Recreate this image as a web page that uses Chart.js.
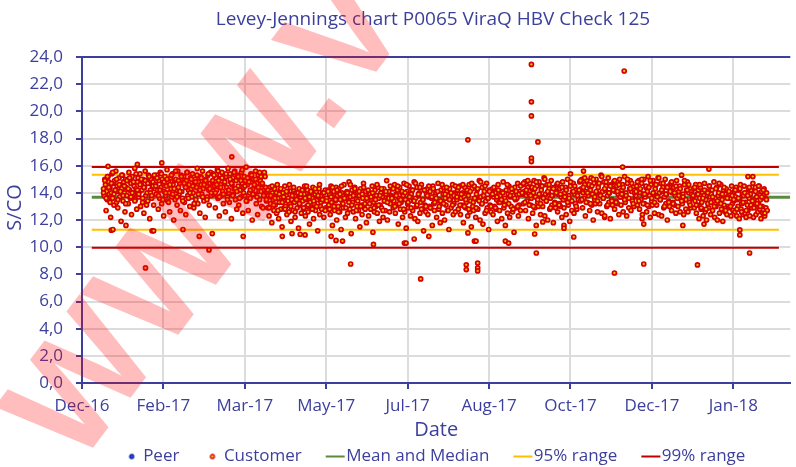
<!DOCTYPE html>
<html>
<head>
<meta charset="utf-8">
<script src="https://cdn.jsdelivr.net/npm/chart.js@4.4.1/dist/chart.umd.min.js"></script>
<style>
  html, body { margin: 0; padding: 0; background: #fff; }
  #wrap { width: 796px; height: 467px; }
</style>
</head>
<body>
<div id="wrap"><canvas id="lj" width="796" height="467"></canvas></div>
<script>
// x = days counted from the Dec-16 gridline, one tick every 50 days
const xTickLabels = ["Dec-16", "Feb-17", "Mar-17", "May-17", "Jul-17", "Aug-17", "Oct-17", "Dec-17", "Jan-18"]

// reference lines (S/CO)
const meanValue = 13.67
const range95 = [15.33, 11.29]
const range99 = [15.9, 9.96]
const meanDays = [6, 435]
const rangeDays = [6, 428]

// customer results, one array per period, in run order
const segmentDays = [[13, 45], [45, 80], [80, 113], [113, 150], [150, 190], [190, 230], [230, 270], [270, 305], [305, 340], [340, 375], [375, 400], [400, 421]]

const seg01 = [14.3,13.8,15.0,14.6,12.7,14.1,13.5,15.2,14.8,13.9,14.4,12.2,14.0,15.4,13.6,14.7,13.1,14.9,14.2,15.6,13.3,14.5,12.9,14.1,15.1,13.7,14.6,11.9,14.3,15.3,13.4,14.8,14.0,12.6,15.0,14.4,13.8,14.9,13.2,15.5,14.2,13.6,14.7,12.4,15.2,14.0,13.9,14.5,15.8,13.5,14.3,12.8,14.8,15.1,13.7,14.1,15.4,13.0,14.6,14.2,13.3,15.0,12.5,14.4,15.6,13.8,14.9,14.0,13.4,15.3,14.7,12.1,14.2,15.0,13.6,14.5,14.8,13.1,15.2,14.3]
const seg02 = [14.6,13.9,15.3,14.2,12.8,14.9,13.6,15.5,14.4,13.2,15.0,14.7,12.3,14.1,15.2,13.8,14.5,15.7,13.4,14.8,14.0,12.6,15.1,14.3,13.7,15.4,14.6,12.0,14.9,13.5,15.0,14.2,13.1,15.6,14.4,13.9,14.7,12.7,15.3,14.1,13.6,14.8,15.2,13.3,14.5,12.4,14.9,15.5,13.8,14.2,14.6,13.0,15.1,14.3,13.7,15.4,14.0,12.9,14.7,15.0,13.5,14.4,15.8,13.2,14.8,14.1,12.5,15.2,14.6,13.9,15.6,14.3,13.4,14.9,12.2,15.0,14.5,13.7,15.3,14.2,13.1,14.7,15.5,13.8,14.4]
const seg03 = [14.8,15.4,13.9,14.5,12.9,15.1,14.2,15.7,13.6,14.9,12.3,15.3,14.6,13.8,15.5,14.1,13.2,15.0,14.7,12.6,15.2,14.4,13.7,15.8,14.0,13.3,15.4,14.8,12.1,14.6,15.1,13.9,14.3,15.6,13.5,14.9,12.8,15.3,14.5,13.1,15.0,14.2,13.7,15.5,14.7,12.5,14.4,15.2,13.8,14.9,15.9,13.4,14.6,12.7,15.1,14.0,13.6,15.4,14.8,12.0,14.3,15.0,13.9,14.5,15.6,13.2,14.7,12.4,15.3,14.1,13.5,14.9,15.2,13.0,14.6,12.9,14.2,15.5,13.8,14.4]
const seg04 = [13.4,14.1,12.9,13.8,12.3,14.4,13.2,13.7,11.8,14.0,13.5,12.7,14.3,13.1,13.9,12.5,14.6,13.6,12.1,13.3,14.2,12.8,13.7,11.5,14.0,13.4,12.9,14.5,13.0,13.8,12.4,14.1,13.6,12.6,13.2,14.4,11.9,13.5,13.9,12.7,14.2,13.3,12.2,13.8,14.0,12.9,13.6,11.4,14.3,13.1,13.7,12.5,14.1,13.4,12.8,13.9,14.5,12.3,13.5,13.0,14.2,12.6,13.8,11.7,13.3,14.0,12.9,13.6,14.4,12.1,13.2,13.9,12.7,14.1,13.5,11.2,13.7,14.3,12.4,13.0,13.8,12.8,14.0,13.4,12.2,13.6,14.2,12.9]
const seg05 = [13.6,12.8,14.2,13.1,13.9,12.4,14.5,13.3,11.6,13.7,14.1,12.7,13.4,14.4,12.0,13.8,13.0,14.3,12.6,13.5,11.3,14.0,13.2,12.9,14.6,13.6,12.2,13.9,14.1,12.5,13.4,14.8,12.8,13.7,11.0,14.2,13.3,12.6,13.9,14.4,12.1,13.5,13.0,14.0,12.7,13.8,11.5,14.3,13.1,12.4,13.6,14.7,12.9,13.2,14.1,11.8,13.7,13.4,12.3,14.0,13.9,12.8,13.5,14.5,11.1,13.3,12.6,14.2,13.0,13.8,12.5,14.4,13.6,11.9,13.1,14.0,12.9,13.7,12.2,14.3,13.4,12.7,13.9,14.9,12.0,13.5,14.1,12.6,13.2,13.8]
const seg06 = [13.7,14.3,12.9,13.4,14.6,12.5,13.9,13.1,14.2,11.7,13.6,14.4,12.8,13.3,14.0,12.2,13.8,14.7,12.6,13.5,11.4,14.1,13.2,12.9,14.5,13.7,12.3,13.9,14.2,12.7,13.4,14.8,12.1,13.6,13.0,14.4,11.9,13.8,14.0,12.5,13.3,14.6,12.8,13.5,11.2,14.2,13.1,12.6,13.9,14.3,12.4,13.7,13.0,14.1,12.9,13.6,11.6,14.5,13.2,12.7,13.8,14.0,12.2,13.4,14.7,12.8,13.5,11.8,14.2,13.3,12.5,13.9,14.4,12.0,13.6,13.1,14.1,12.7,13.8,11.3,14.3,13.5,12.9,13.7,14.6,12.4,13.2,14.0,12.6,13.9]
const seg07 = [13.5,14.2,12.8,13.9,14.5,12.4,13.6,13.1,14.0,11.8,13.7,14.4,12.9,13.3,14.1,12.3,13.8,14.6,12.6,13.4,11.5,14.3,13.0,12.7,14.5,13.6,12.2,13.9,14.2,12.8,13.5,14.9,12.0,13.7,13.2,14.4,11.7,13.8,14.1,12.5,13.4,14.7,12.9,13.6,11.3,14.2,13.1,12.6,13.9,14.3,12.4,13.7,13.0,14.0,12.8,13.5,11.9,14.6,13.3,12.7,13.8,14.1,12.1,13.4,14.8,12.9,13.6,11.6,14.2,13.2,12.5,13.9,14.5,12.2,13.7,13.0,14.0,12.6,13.8,11.1,14.4,13.5,12.9,13.6,14.7,12.3,13.1,14.1,12.7,13.9]
const seg08 = [13.9,14.6,13.2,14.1,14.8,12.7,13.8,13.4,14.4,12.1,13.9,14.7,13.1,13.6,14.3,12.5,14.0,14.9,12.9,13.7,11.6,14.5,13.3,13.0,14.8,13.8,12.4,14.2,14.5,13.0,13.7,15.1,12.3,13.9,13.4,14.6,12.0,14.0,14.3,12.8,13.6,14.9,13.1,13.8,11.8,14.4,13.3,12.9,14.1,14.6,12.6,13.9,13.2,14.3,13.0,13.7,12.2,14.8,13.5,12.9,14.0,14.4,12.4,13.6,15.0,13.1,13.8,11.9,14.5,13.4,12.7,14.1,14.7,12.5,13.9,13.2,14.2,12.8,14.0,13.5]
const seg09 = [14.1,14.8,13.4,14.3,15.0,12.9,14.0,13.6,14.6,12.3,14.1,14.9,13.3,13.8,14.5,12.7,14.2,15.1,13.1,13.9,12.0,14.7,13.5,13.2,15.0,14.0,12.6,14.4,14.7,13.2,13.9,15.3,12.5,14.1,13.6,14.8,12.2,14.2,14.5,13.0,13.8,15.1,13.3,14.0,12.1,14.6,13.5,13.1,14.3,14.8,12.8,14.1,13.4,14.5,13.2,13.9,12.4,15.0,13.7,13.1,14.2,14.6,12.6,13.8,15.2,13.3,14.0,12.3,14.7,13.6,12.9,14.3,14.9,12.7,14.1,13.4,14.4,13.0,14.2,13.7]
const seg10 = [13.8,14.5,13.1,14.2,14.9,12.8,14.0,13.5,14.7,12.4,13.9,15.0,13.2,13.7,14.4,12.6,14.1,15.2,13.0,13.8,12.2,14.6,13.4,13.1,14.9,13.9,12.5,14.3,14.6,13.1,13.8,15.1,12.4,14.0,13.5,14.7,12.3,14.1,14.4,12.9,13.7,15.0,13.2,13.9,12.0,14.5,13.4,13.0,14.2,14.7,12.7,14.0,13.3,14.4,13.1,13.8,12.5,14.9,13.6,13.0,14.1,14.5,12.6,13.7,15.3,13.2,13.9,12.4,14.6,13.5,12.8,14.2,14.8,12.6,14.0,13.3,14.3,12.9,14.1,13.6]
const seg11 = [13.7,14.3,12.9,13.4,14.6,12.5,13.9,13.1,14.2,12.1,13.6,14.4,12.8,13.3,14.0,12.3,13.8,14.7,12.6,13.5,12.0,14.1,13.2,12.9,14.5,13.7,12.4,13.9,14.2,12.7,13.4,14.8,12.2,13.6,13.0,14.4,12.0,13.8,14.0,12.5,13.3,14.6,12.8,13.5,11.9,14.2,13.1,12.6,13.9,14.3,12.4,13.7,13.0,14.1,12.9,13.6,12.3,14.5,13.2,12.7]
const seg12 = [13.4,14.1,12.6,13.7,14.4,12.3,13.5,13.0,14.2,12.1,13.6,14.6,12.8,13.2,13.9,12.4,13.8,14.5,12.5,13.3,12.2,14.0,13.1,12.7,14.3,13.6,12.3,13.9,14.2,12.9,13.4,14.7,12.2,13.5,13.0,14.4,12.4,13.7,14.0,12.6,13.2,14.5,12.8,13.5,12.1,14.1,13.0,12.5,13.8,14.3,12.3,13.6,12.9,14.0,12.7]
const segments = [seg01, seg02, seg03, seg04, seg05, seg06, seg07, seg08, seg09, seg10, seg11, seg12]

// second run of each period (same days), mostly inside the core band
const core01 = [14.0,14.9,13.6,15.2,14.4,13.3,14.7,15.5,13.9,14.2,15.0,13.5,14.6,14.1,15.3,13.8,14.5,13.2,14.9,14.3,15.1,13.7,14.0,14.8,13.4,15.4,14.2,13.9,14.6,15.0,13.6,14.4,14.9,13.1,14.7,15.2,14.0,13.8,14.5,15.3]
const core02 = [14.5,15.1,13.8,14.2,15.4,13.5,14.8,14.0,15.0,13.3,14.6,15.3,13.9,14.3,15.6,13.7,14.9,14.1,15.2,13.4,14.7,14.4,15.5,13.6,14.0,15.0,14.5,13.2,14.8,15.3,13.9,14.2,15.1,13.7,14.6,14.9,13.5,15.4,14.3,14.0]
const core03 = [14.9,15.3,14.0,14.6,15.6,13.7,14.4,15.1,13.9,14.8,15.4,13.5,14.2,15.0,14.7,13.8,15.5,14.3,14.1,15.2,13.6,14.9,15.7,14.0,14.5,13.4,15.1,14.8,14.2,15.3,13.9,14.6,15.0,13.7,14.4,15.5,14.1,14.7,13.8,15.2]
const core04 = [13.5,14.2,12.9,13.8,14.5,13.1,13.6,14.0,12.7,13.9,14.3,13.3,13.7,12.8,14.1,13.4,14.6,13.0,13.8,14.4,12.6,13.5,14.0,13.2,13.9,14.2,12.9,13.6,14.5,13.1,13.7,14.1,12.8,13.4,14.3,13.0,13.8,14.6,13.3,13.5,14.0,12.7]
const core05 = [13.4,14.1,12.8,13.7,14.4,13.0,13.5,14.2,12.6,13.9,14.5,13.2,13.6,12.9,14.0,13.3,14.6,13.1,13.8,14.3,12.7,13.4,14.1,13.0,13.9,14.4,12.8,13.6,14.2,13.2,13.7,14.0,12.9,13.5,14.6,13.1,13.8,14.3,12.7,13.4,14.1,13.3,13.6,14.5]
const core06 = [13.6,14.3,13.0,13.8,14.5,13.2,13.5,14.1,12.8,14.0,14.6,13.3,13.7,12.9,14.2,13.4,14.7,13.1,13.9,14.4,12.8,13.5,14.2,13.0,13.8,14.5,12.9,13.7,14.3,13.3,13.6,14.1,13.0,13.4,14.6,13.2,13.9,14.4,12.7,13.5,14.0,13.1,13.8,14.5]
const core07 = [13.7,14.4,13.1,13.9,14.6,13.0,13.5,14.2,12.8,14.1,14.7,13.3,13.6,12.9,14.3,13.4,14.8,13.2,13.8,14.5,12.7,13.6,14.1,13.0,13.9,14.4,12.9,13.7,14.2,13.3,13.5,14.0,13.1,13.4,14.6,13.2,13.8,14.3,12.8,13.6,14.1,13.0,13.9,14.5]
const core08 = [14.0,14.7,13.3,14.2,14.9,13.1,13.8,14.4,13.0,14.3,14.8,13.5,13.9,13.2,14.5,13.6,15.0,13.4,14.1,14.6,12.9,13.8,14.3,13.2,14.0,14.7,13.1,13.9,14.4,13.5,13.7,14.2,13.3,13.6,14.8,13.4,14.1,14.5,13.0,13.8]
const core09 = [14.2,14.9,13.5,14.4,15.1,13.3,14.0,14.6,13.2,14.5,15.0,13.7,14.1,13.4,14.7,13.8,15.2,13.6,14.3,14.8,13.1,14.0,14.5,13.4,14.2,14.9,13.3,14.1,14.6,13.7,13.9,14.4,13.5,13.8,15.0,13.6,14.3,14.7,13.2,14.0]
const core10 = [14.1,14.8,13.4,14.3,15.0,13.2,13.9,14.5,13.1,14.4,14.9,13.6,14.0,13.3,14.6,13.7,15.1,13.5,14.2,14.7,13.0,13.9,14.4,13.3,14.1,14.8,13.2,14.0,14.5,13.6,13.8,14.3,13.4,13.7,14.9,13.5,14.2,14.6,13.1,13.9]
const core11 = [13.8,14.4,13.1,13.9,14.6,12.9,13.6,14.2,12.8,14.0,14.5,13.3,13.7,13.0,14.3,13.4,14.7,13.2,13.9,14.4,12.7,13.6,14.1,13.0,13.8]
const core12 = [13.5,14.2,12.8,13.6,14.3,12.6,13.3,14.0,12.7,13.8,14.4,13.1,13.4,12.9,14.1,13.2,14.5,13.0,13.7,14.2,12.5,13.5]
const coreRuns = [core01, core02, core03, core04, core05, core06, core07, core08, core09, core10, core11, core12]

// isolated results read one by one
const outlierDays =   [16, 18, 19, 27, 34, 39, 43, 44, 49, 62, 72, 78, 80, 92, 99, 123, 129, 134, 137, 153, 156, 160, 165, 179, 198, 199, 204, 208, 213, 236, 236, 237, 237, 241, 242, 243, 243, 243, 260, 262, 276, 276, 276, 276, 276, 278, 279, 280, 283, 296, 296, 300, 302, 308, 321, 327, 332, 333, 344, 345, 345, 369, 378, 382, 385, 404, 404, 409, 410, 412]
const outlierValues = [15.95, 11.25, 11.3, 11.6, 16.1, 8.47, 11.2, 11.2, 16.2, 11.3, 10.8, 9.8, 11.0, 16.65, 10.8, 10.8, 11.0, 10.95, 10.9, 10.8, 10.5, 10.45, 8.76, 10.2, 10.3, 10.3, 10.6, 7.66, 10.8, 8.7, 8.35, 17.9, 11.05, 10.45, 10.45, 8.83, 8.47, 8.25, 10.45, 10.3, 23.45, 20.7, 19.66, 16.55, 16.3, 10.97, 9.57, 17.75, 11.86, 11.6, 11.4, 15.4, 10.75, 15.6, 12.3, 8.1, 15.9, 22.97, 12.1, 11.7, 8.76, 11.6, 8.69, 11.7, 15.75, 11.27, 10.9, 15.2, 9.57, 15.2]

const textBlue = '#3c3f9b'
const gridGrey = '#dcdcdc'
const font = 'Open Sans'

Chart.defaults.font.family = font
Chart.defaults.color = textBlue

// build scatter points
const customerPoints = []
function addRuns(runs, shift) {
  runs.forEach((vals, s) => {
    const [d0, d1] = segmentDays[s]
    const step = (d1 - d0) / vals.length
    vals.forEach((v, i) => customerPoints.push({ x: d0 + (i + shift) * step, y: v }))
  })
}
addRuns(segments, 0.5)
addRuns(coreRuns, 0.3)
outlierDays.forEach((d, i) => customerPoints.push({ x: d, y: outlierValues[i] }))

const hLine = (days, value) => [{ x: days[0], y: value }, { x: days[1], y: value }]

// small legend markers
function dotMark(fill, stroke) {
  const c = document.createElement('canvas')
  c.width = 44; c.height = 8
  const g = c.getContext('2d')
  g.beginPath()
  g.arc(33, 4, 2.0, 0, Math.PI * 2)
  g.fillStyle = fill
  g.fill()
  g.lineWidth = 1.3
  g.strokeStyle = stroke
  g.stroke()
  return c
}
function lineMark(color) {
  const c = document.createElement('canvas')
  c.width = 44; c.height = 8
  const g = c.getContext('2d')
  g.fillStyle = color
  g.fillRect(24, 3, 19, 2)
  return c
}
const legendMarks = [dotMark('#1a4cff', '#1020a0'), dotMark('#ffc000', '#d00000'), lineMark('#5a8a3c'), lineMark('#ffc000'), null, lineMark('#c00000'), null]

// centre title and legend on the plot like the original
const recentre = {
  id: 'recentre',
  afterLayout(chart) {
    if (chart.titleBlock) { chart.titleBlock.left = 70; chart.titleBlock.right = 796 }
    if (chart.legend) { chart.legend.left = 56; chart.legend.right = 796 }
  }
}

// diagonal watermark over the plot
const watermark = {
  id: 'watermark',
  afterDraw(chart) {
    const ctx = chart.ctx
    ctx.save()
    ctx.translate(77, 469)
    ctx.rotate(-53 * Math.PI / 180)
    ctx.font = 'bold 150px "Liberation Sans"'
    ctx.fillStyle = 'rgba(255, 0, 0, 0.26)'
    ctx.textBaseline = 'alphabetic'
    ctx.fillText('WWW.V', 0, 0)
    ctx.restore()
  }
}

new Chart(document.getElementById('lj'), {
  type: 'scatter',
  data: {
    datasets: [
      { label: 'Peer', data: [], pointRadius: 2.1, pointBackgroundColor: '#1a4cff', pointBorderColor: '#1020a0' },
      { label: 'Customer', data: customerPoints, pointRadius: 2.0, pointBorderWidth: 1.7, pointBackgroundColor: '#ffc000', pointBorderColor: '#d40000' },
      { label: 'Mean and Median', type: 'line', data: hLine(meanDays, meanValue), borderColor: '#5a8a3c', borderWidth: 3, pointRadius: 0 },
      { label: '95% range', type: 'line', data: hLine(rangeDays, range95[0]), borderColor: '#ffc000', borderWidth: 2, pointRadius: 0 },
      { label: '', type: 'line', data: hLine(rangeDays, range95[1]), borderColor: '#ffc000', borderWidth: 2, pointRadius: 0 },
      { label: '99% range', type: 'line', data: hLine(rangeDays, range99[0]), borderColor: '#c00000', borderWidth: 2, pointRadius: 0 },
      { label: '', type: 'line', data: hLine(rangeDays, range99[1]), borderColor: '#c00000', borderWidth: 2, pointRadius: 0 }
    ]
  },
  options: {
    responsive: false,
    animation: false,
    devicePixelRatio: 1,
    layout: { padding: { left: 0, right: 0, top: 0, bottom: -8 } },
    plugins: {
      tooltip: { enabled: false },
      title: {
        display: true,
        text: 'Levey-Jennings chart P0065 ViraQ HBV Check 125',
        color: textBlue,
        font: { size: 19, weight: 'normal' },
        padding: { top: 8, bottom: 26.2 }
      },
      legend: {
        position: 'bottom',
        labels: {
          usePointStyle: true,
          pointStyleWidth: 28,
          padding: 8,
          color: textBlue,
          font: { size: 17 },
          generateLabels(chart) {
            const items = Chart.defaults.plugins.legend.labels.generateLabels(chart)
            return items
              .filter(it => it.text !== '')
              .map(it => { it.pointStyle = legendMarks[it.datasetIndex]; return it })
          }
        }
      }
    },
    scales: {
      x: {
        type: 'linear',
        min: 0,
        max: 435,
        afterFit(scale) { scale.height = 57 },
        ticks: {
          stepSize: 50,
          includeBounds: false,
          padding: 7,
          color: textBlue,
          font: { size: 17 },
          maxRotation: 0,
          callback: v => xTickLabels[v / 50]
        },
        grid: { color: gridGrey, lineWidth: 2, tickColor: textBlue, tickLength: 6, tickWidth: 2 },
        border: { color: textBlue, width: 2 },
        title: { display: true, text: 'Date', color: textBlue, font: { size: 20, lineHeight: 1.0 }, padding: { top: 0, bottom: 0 } }
      },
      y: {
        min: 0,
        max: 24,
        afterFit(scale) { scale.width = 82 },
        ticks: {
          stepSize: 2,
          padding: 13,
          color: textBlue,
          font: { size: 17 },
          callback: v => v.toFixed(1).replace('.', ',')
        },
        grid: {
          color: c => c.tick && c.tick.value === 24 ? textBlue : gridGrey,
          lineWidth: 2,
          tickColor: textBlue,
          tickLength: 6,
          tickWidth: 2
        },
        border: { color: textBlue, width: 2 },
        title: { display: true, text: '\u2002\u2002 S/CO', color: textBlue, font: { size: 20 }, padding: { top: 3.5, bottom: 0 } }
      }
    }
  },
  plugins: [recentre, watermark]
})
</script>
</body>
</html>
